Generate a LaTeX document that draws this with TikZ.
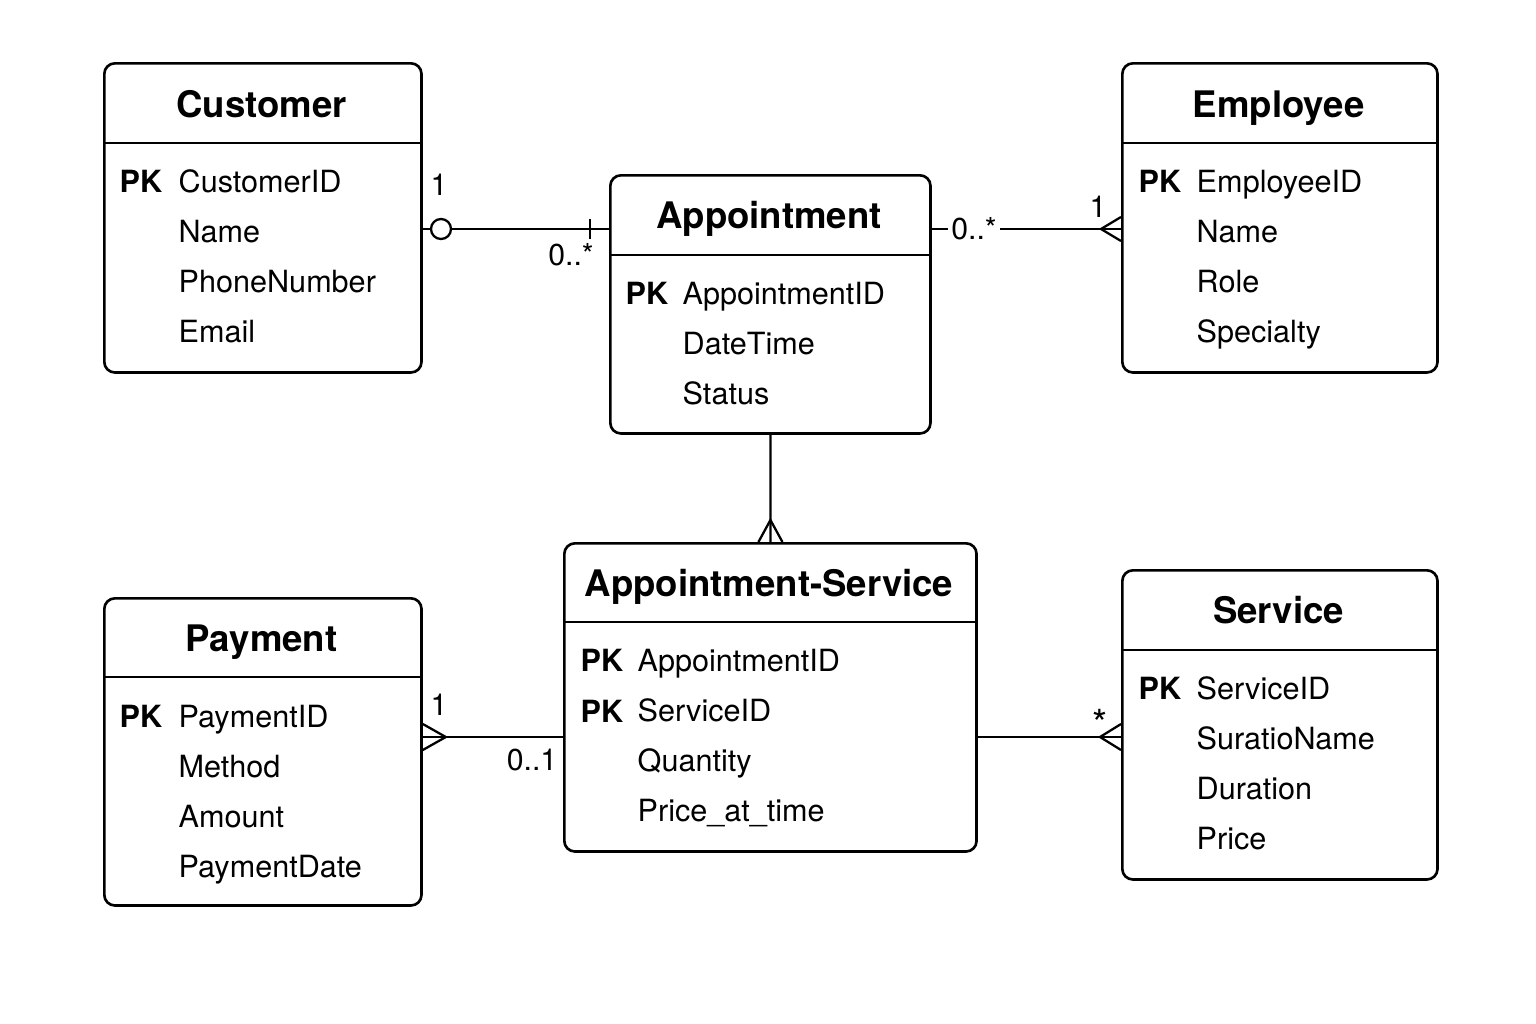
\documentclass[tikz,border=0pt]{standalone}
\usepackage{fontspec}
\setmainfont{TeX Gyre Heros}
\usetikzlibrary{positioning,calc}

\tikzset{
  entity/.style={draw, line width=0.75pt, rounded corners=3pt, anchor=north west, inner sep=0pt},
  rule/.style={line width=0.75pt},
  head/.style={anchor=base, inner sep=0pt, font=\bfseries\fontsize{10.4}{12}\selectfont},
  pk/.style={anchor=base west, inner sep=0pt, font=\bfseries\fontsize{8.7}{10}\selectfont},
  attr/.style={anchor=base west, inner sep=0pt, font=\fontsize{8.7}{10}\selectfont},
  link/.style={line width=0.65pt},
  card/.style={inner sep=1pt, font=\fontsize{8.6}{10}\selectfont},
}

\begin{document}
\begin{tikzpicture}[x=0.01cm, y=-0.01cm]
  \fill[white] (0,0) rectangle (1536,1024);

  % Customer
  \node[entity, minimum width=3.17cm, minimum height=3.09cm] (cust) at (103,62) {};
  \draw[rule] (cust.west |- 0,143) -- (cust.east |- 0,143);
  \node[head] (custT) at (261.5,117) {Customer};
  \node[pk] (custPK) at (119,192) {PK};
  \foreach \t [count=\i from 0] in {CustomerID,Name,PhoneNumber,Email}
    \node[attr] (cust\i) at (178,192+50*\i) {\t};

  % Employee
  \node[entity, minimum width=3.15cm, minimum height=3.09cm] (emp) at (1121,62) {};
  \draw[rule] (emp.west |- 0,143) -- (emp.east |- 0,143);
  \node[head] (empT) at (1278.5,117) {Employee};
  \node[pk] (empPK) at (1138,192) {PK};
  \foreach \t [count=\i from 0] in {EmployeeID,Name,Role,Specialty}
    \node[attr] (emp\i) at (1196,192+50*\i) {\t};

  % Appointment
  \node[entity, minimum width=3.20cm, minimum height=2.58cm] (appt) at (609,174) {};
  \draw[rule] (appt.west |- 0,255) -- (appt.east |- 0,255);
  \node[head] (apptT) at (769,228.5) {Appointment};
  \node[pk] (apptPK) at (625,304) {PK};
  \foreach \t [count=\i from 0] in {AppointmentID,DateTime,Status}
    \node[attr] (appt\i) at (682,304+50*\i) {\t};

  % Appointment-Service
  \node[entity, minimum width=4.12cm, minimum height=3.08cm] (aps) at (563,542) {};
  \draw[rule] (aps.west |- 0,622) -- (aps.east |- 0,622);
  \node[head] (apsT) at (769,596) {Appointment-Service};
  \node[pk] (apsPKa) at (580,671) {PK};
  \node[pk] (apsPKb) at (580,722) {PK};
  \foreach \t [count=\i from 0] in {AppointmentID,ServiceID,Quantity,Price\_at\_time}
    \node[attr] (aps\i) at (637,671+50.3*\i) {\t};

  % Payment
  \node[entity, minimum width=3.17cm, minimum height=3.07cm] (pay) at (103,597) {};
  \draw[rule] (pay.west |- 0,677) -- (pay.east |- 0,677);
  \node[head] (payT) at (261.5,651) {Payment};
  \node[pk] (payPK) at (119,727) {PK};
  \foreach \t [count=\i from 0] in {PaymentID,Method,Amount,PaymentDate}
    \node[attr] (pay\i) at (178,727+50*\i) {\t};

  % Service
  \node[entity, minimum width=3.15cm, minimum height=3.09cm] (serv) at (1121,569) {};
  \draw[rule] (serv.west |- 0,650) -- (serv.east |- 0,650);
  \node[head] (servT) at (1278.5,623.5) {Service};
  \node[pk] (servPK) at (1138,699) {PK};
  \foreach \t [count=\i from 0] in {ServiceID,SuratioName,Duration,Price}
    \node[attr] (serv\i) at (1196,699+50*\i) {\t};

  % Customer -- Appointment
  \coordinate (ca1) at (cust.east |- 0,229);
  \coordinate (ca2) at (appt.west |- 0,229);
  \draw[link] (ca1) -- (ca2);
  \node[draw, circle, line width=0.65pt, fill=white, minimum size=0.2cm, inner sep=0pt] (caO) at (441,229) {};
  \draw[link] (ca2) ++(-19,-10) -- ++(0,20);
  \node[card] (caL1) at (439,185) {1};
  \node[card] (caL2) at (571,255) {0..*};

  % Appointment -- Employee
  \coordinate (ae1) at (appt.east |- 0,229);
  \coordinate (ae2) at (emp.west |- 0,229);
  \draw[link] (ae1) -- (ae2);
  \draw[link] (ae2) ++(0,-12) -- ++(-20,12) -- ++(20,12);
  \node[card, fill=white] (aeL1) at (974,229) {0..*};
  \node[card] (aeL2) at (1098,207) {1};

  % Appointment -- Appointment-Service
  \coordinate (as1) at (appt.south);
  \coordinate (as2) at (aps.north);
  \draw[link] (as1) -- (as2);
  \draw[link] (as2) ++(-12,0) -- ++(12,-22) -- ++(12,22);

  % Payment -- Appointment-Service
  \coordinate (pa1) at (pay.east |- 0,737);
  \coordinate (pa2) at (aps.west |- 0,737);
  \draw[link] (pa1) -- (pa2);
  \draw[link] (pa1) ++(0,-13) -- ++(23,13) -- ++(-23,13);
  \node[card] (paL1) at (439,705) {1};
  \node[card] (paL2) at (532,760) {0..1};

  % Appointment-Service -- Service
  \coordinate (sv1) at (aps.east |- 0,737);
  \coordinate (sv2) at (serv.west |- 0,737);
  \draw[link] (sv1) -- (sv2);
  \draw[link] (sv2) ++(0,-13) -- ++(-21,13) -- ++(21,13);
  \node[card] (svL1) at (1100,723) {\fontsize{11}{12}\selectfont *};
\end{tikzpicture}
\end{document}
